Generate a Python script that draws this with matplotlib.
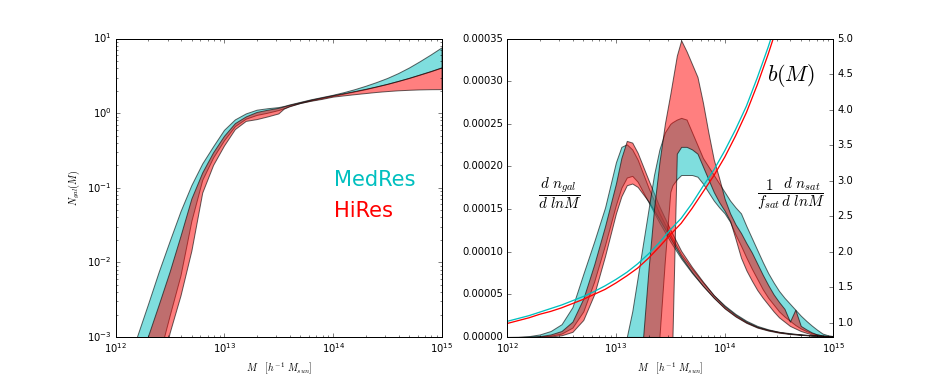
'''
HOD comparison figure: N_gal(M) and mass distributions, MedRes vs HiRes.
'''
import numpy as np
import matplotlib
matplotlib.use('Agg')
import matplotlib.pyplot as plt
from matplotlib.colors import to_rgba
from matplotlib.ticker import FormatStrFormatter, MultipleLocator

plt.style.use('classic')
plt.rcParams['font.size'] = 10
plt.rcParams['mathtext.fontset'] = 'cm'
plt.rcParams['figure.facecolor'] = 'white'
plt.rcParams['savefig.facecolor'] = 'white'

##############################################################################
# left panel: log10 N_gal(M), upper/lower envelopes
logm_ngal = [12.0, 12.1, 12.2, 12.3, 12.4, 12.5, 12.6, 12.7, 12.8, 12.9,
             13.0, 13.1, 13.2, 13.3, 13.4, 13.5, 13.55, 13.6, 13.7, 13.8,
             13.9, 14.0, 14.1, 14.2, 14.3, 14.4, 14.5, 14.6, 14.7, 14.8,
             14.9, 15.0]
ngal_med_hi = [-3.85, -3.43, -3.0, -2.57, -2.13, -1.72, -1.32, -0.97, -0.68,
               -0.45, -0.23, -0.09, -0.01, 0.04, 0.06, 0.075, 0.09, 0.11,
               0.145, 0.18, 0.21, 0.24, 0.275, 0.315, 0.36, 0.41, 0.465,
               0.53, 0.605, 0.69, 0.78, 0.875]
ngal_med_lo = [-5.6, -5.1, -4.5, -3.9, -3.28, -2.72, -2.18, -1.45, -0.90,
               -0.60, -0.37, -0.18, -0.08, -0.03, 0.0, 0.035, 0.06, 0.09,
               0.13, 0.165, 0.195, 0.225, 0.255, 0.285, 0.315, 0.35, 0.385,
               0.425, 0.465, 0.51, 0.555, 0.605]
ngal_hi_hi = [-4.3, -3.87, -3.43, -3.0, -2.57, -2.13, -1.65, -1.15, -0.80,
              -0.53, -0.31, -0.14, -0.05, 0.01, 0.04, 0.065, 0.085, 0.105,
              0.14, 0.175, 0.205, 0.235, 0.262, 0.29, 0.32, 0.352, 0.387,
              0.425, 0.467, 0.512, 0.558, 0.607]
ngal_hi_lo = [-6.2, -5.6, -4.95, -4.3, -3.6, -2.95, -2.45, -1.85, -1.07,
              -0.70, -0.44, -0.22, -0.11, -0.086, -0.05, -0.01, 0.055, 0.085,
              0.13, 0.16, 0.185, 0.215, 0.232, 0.248, 0.263, 0.278, 0.29,
              0.30, 0.307, 0.312, 0.315, 0.316]

# right panel: dn_gal/dlnM (units of 1e-5)
logm_gal = [12.0, 12.1, 12.2, 12.3, 12.4, 12.5, 12.6, 12.7, 12.8, 12.9,
            13.0, 13.05, 13.1, 13.15, 13.2, 13.3, 13.4, 13.5, 13.6, 13.7,
            13.8, 13.9, 14.0, 14.1, 14.2, 14.3, 14.4, 14.5, 14.6, 14.7,
            14.8, 14.9, 15.0]
gal_med_hi = [0.0, 0.02, 0.1, 0.3, 0.7, 1.5, 3.5, 7.4, 11.2, 15.2,
              20.5, 22.3, 22.6, 22.0, 20.8, 17.5, 14.5, 12.0, 9.7, 8.0,
              6.4, 4.9, 3.7, 2.7, 1.9, 1.3, 0.9, 0.6, 0.45, 0.3,
              0.2, 0.15, 0.1]
gal_med_lo = [0.0, 0.0, 0.01, 0.05, 0.15, 0.4, 1.1, 3.0, 6.5, 10.8,
              15.5, 17.5, 18.7, 18.9, 18.2, 15.8, 13.4, 11.2, 9.2, 7.5,
              6.0, 4.6, 3.4, 2.45, 1.7, 1.15, 0.8, 0.55, 0.38, 0.27,
              0.18, 0.11, 0.07]
gal_hi_hi = [0.0, 0.0, 0.02, 0.1, 0.3, 0.7, 1.8, 4.5, 8.5, 13.0,
             18.0, 21.0, 23.0, 22.8, 21.6, 18.4, 15.3, 12.6, 10.1, 8.2,
             6.5, 4.9, 3.6, 2.6, 1.8, 1.2, 0.85, 0.6, 0.4, 0.3,
             0.2, 0.12, 0.08]
gal_hi_lo = [0.0, 0.0, 0.0, 0.02, 0.06, 0.2, 0.6, 2.0, 5.0, 9.5,
             14.5, 16.5, 17.8, 18.0, 17.6, 15.9, 13.8, 11.6, 9.4, 7.6,
             6.0, 4.6, 3.35, 2.4, 1.65, 1.1, 0.75, 0.5, 0.35, 0.25,
             0.16, 0.1, 0.06]

# right panel: 1/f_sat dn_sat/dlnM (units of 1e-5)
logm_sat = [13.1, 13.15, 13.2, 13.25, 13.3, 13.35, 13.4, 13.45, 13.5, 13.52,
            13.56, 13.6, 13.65, 13.7, 13.75, 13.8, 13.85, 13.9, 13.95, 14.0,
            14.05, 14.1, 14.15, 14.2, 14.25, 14.3, 14.35, 14.4, 14.45, 14.5,
            14.55, 14.6, 14.65, 14.7, 14.75, 14.8, 14.85, 14.9, 14.95, 15.0]
sat_med_hi = [0.0, 3.0, 7.0, 11.0, 15.0, 19.0, 22.0, 24.0, 25.0, 25.2,
              25.5, 25.7, 25.5, 24.0, 22.5, 21.0, 20.0, 19.0, 18.0, 17.0,
              16.0, 15.2, 14.5, 13.0, 11.6, 10.2, 8.8, 7.5, 6.4, 5.4,
              4.6, 3.9, 3.2, 2.5, 1.9, 1.35, 0.85, 0.4, 0.2, 0.1]
sat_med_lo = [0.0, 0.0, 0.0, 0.0, 0.0, 0.0, 0.0, 9.0, 17.0, 17.8,
              18.5, 19.0, 19.0, 19.0, 18.8, 18.0, 17.0, 16.0, 15.2, 14.5,
              13.5, 12.0, 10.7, 9.3, 8.0, 6.8, 5.6, 4.6, 3.8, 3.0,
              2.4, 1.9, 1.4, 1.0, 0.7, 0.45, 0.3, 0.18, 0.1, 0.05]
sat_hi_hi = [0.0, 0.0, 0.0, 0.0, 8.0, 15.0, 20.5, 25.0, 28.5, 30.0,
             33.0, 34.8, 33.5, 32.0, 30.5, 27.5, 24.0, 20.8, 18.6, 16.2,
             14.5, 13.2, 12.2, 11.0, 9.9, 8.6, 7.3, 6.1, 5.0, 4.1,
             3.3, 1.8, 3.2, 1.3, 0.9, 0.55, 0.3, 0.18, 0.1, 0.06]
sat_hi_lo = [0.0, 0.0, 0.0, 0.0, 0.0, 0.0, 0.0, 0.0, 0.0, 0.0,
             21.5, 22.3, 22.3, 22.0, 21.5, 20.0, 18.5, 17.0, 15.8, 14.8,
             13.6, 11.5, 9.3, 7.8, 6.6, 5.5, 4.6, 3.8, 3.0, 2.3,
             1.8, 1.3, 1.0, 0.7, 0.5, 0.3, 0.2, 0.1, 0.05, 0.03]

# right panel, twin axis: bias b(M)
logm_bias = [12.0, 12.1, 12.2, 12.3, 12.4, 12.5, 12.6, 12.7, 12.8, 12.9,
             13.0, 13.1, 13.2, 13.3, 13.4, 13.5, 13.6, 13.7, 13.8, 13.9,
             14.0, 14.1, 14.2, 14.3, 14.4, 14.5]
bias_med = [1.02, 1.06, 1.10, 1.15, 1.20, 1.25, 1.31, 1.37, 1.44, 1.52,
            1.61, 1.71, 1.83, 1.97, 2.13, 2.31, 2.47, 2.68, 2.92, 3.15,
            3.42, 3.72, 4.05, 4.45, 4.88, 5.35]
bias_hi = [0.99, 1.03, 1.07, 1.12, 1.16, 1.21, 1.27, 1.33, 1.40, 1.47,
           1.56, 1.66, 1.77, 1.91, 2.07, 2.24, 2.40, 2.61, 2.84, 3.07,
           3.33, 3.63, 3.96, 4.35, 4.78, 5.25]

##############################################################################

def band(ax, logm, hi, lo, color, scale=1.0, log=False):
    m = 10**np.asarray(logm)
    hi = np.asarray(hi)
    lo = np.asarray(lo)
    if log:
        hi, lo = 10**hi, 10**lo
    ax.fill_between(m, lo*scale, hi*scale, facecolor=to_rgba(color, 0.5),
                    edgecolor=(0, 0, 0, 0.6), linewidth=1)


fig = plt.figure(figsize=(926/72., 386/72.), dpi=72)
fig.subplots_adjust(left=0.125, right=0.9, bottom=0.127, top=0.9,
                    wspace=0.2)

xlabel = r'$M\ \ \ [h^{-1}\ M_{sun}]$'

# N_gal(M)
ax1 = fig.add_subplot(1, 2, 1)
band(ax1, logm_ngal, ngal_med_hi, ngal_med_lo, 'c', log=True)
band(ax1, logm_ngal, ngal_hi_hi, ngal_hi_lo, 'r', log=True)
ax1.set_xscale('log')
ax1.set_yscale('log')
ax1.set_xlim(1e12, 1e15)
ax1.set_ylim(1e-3, 1e1)
ax1.set_xlabel(xlabel, fontsize=10)
ax1.set_ylabel(r'$N_{gal}(M)$', fontsize=10)
ax1.text(0.67, 0.527, 'MedRes', color='c', fontsize=21,
         transform=ax1.transAxes, ha='left', va='center')
ax1.text(0.67, 0.423, 'HiRes', color='r', fontsize=21,
         transform=ax1.transAxes, ha='left', va='center')

# mass distributions + bias
ax2 = fig.add_subplot(1, 2, 2)
band(ax2, logm_gal, gal_med_hi, gal_med_lo, 'c', scale=1e-5)
band(ax2, logm_gal, gal_hi_hi, gal_hi_lo, 'r', scale=1e-5)
band(ax2, logm_sat, sat_med_hi, sat_med_lo, 'c', scale=1e-5)
band(ax2, logm_sat, sat_hi_hi, sat_hi_lo, 'r', scale=1e-5)
ax2.set_xscale('log')
ax2.set_xlim(1e12, 1e15)
ax2.set_ylim(0, 0.00035)
ax2.yaxis.set_major_locator(MultipleLocator(0.00005))
ax2.yaxis.set_major_formatter(FormatStrFormatter('%.5f'))
ax2.set_xlabel(xlabel, fontsize=10)
ax2.text(0.162, 0.48, r'$\dfrac{d\ n_{gal}}{d\ lnM}$', fontsize=15,
         transform=ax2.transAxes, ha='center', va='center')
ax2.text(0.869, 0.48, r'$\dfrac{1}{f_{sat}}\dfrac{d\ n_{sat}}{d\ lnM}$',
         fontsize=15, transform=ax2.transAxes, ha='center', va='center')

ax3 = ax2.twinx()
ax3.plot(10**np.asarray(logm_bias), bias_med, color='c', lw=1.3)
ax3.plot(10**np.asarray(logm_bias), bias_hi, color='r', lw=1.3)
ax3.set_xlim(1e12, 1e15)
ax3.set_ylim(0.8, 5.0)
ax3.set_yticks([1.0, 1.5, 2.0, 2.5, 3.0, 3.5, 4.0, 4.5, 5.0])
ax3.yaxis.set_major_formatter(FormatStrFormatter('%.1f'))
ax3.text(0.869, 0.876, r'$b(M)$', fontsize=22,
         transform=ax3.transAxes, ha='center', va='center')

fig.savefig('out.png', dpi=72)
